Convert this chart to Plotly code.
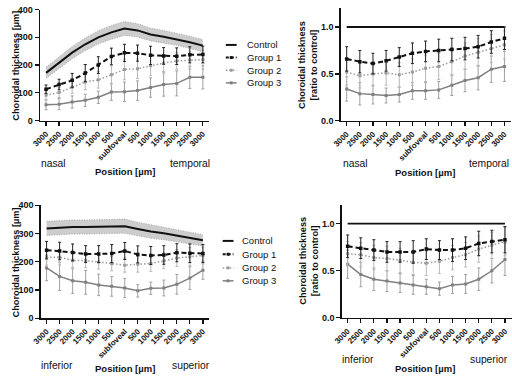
import plotly.graph_objects as go

W, H = 512, 379
positions = ["3000", "2500", "2000", "1500", "1000", "500", "subfoveal",
             "500", "1000", "1500", "2000", "2500", "3000"]
idx = list(range(len(positions)))

# ---- Top-left: nasal-temporal, absolute thickness (µm)
nt_control = [172, 210, 245, 275, 300, 318, 332, 325, 310, 302, 293, 282, 270]
nt_control_sd = [20, 21, 22, 23, 24, 25, 25, 24, 23, 23, 22, 22, 22]
nt_g1 = [113, 130, 145, 171, 200, 231, 244, 243, 235, 233, 232, 237, 238]
nt_g1_sd = [15, 19, 25, 31, 30, 30, 31, 29, 33, 30, 30, 29, 30]
nt_g2 = [91, 101, 120, 139, 147, 165, 184, 187, 198, 207, 215, 218, 220]
nt_g2_sd = [16, 18, 22, 28, 30, 32, 37, 35, 35, 30, 30, 32, 35]
nt_g3 = [57, 59, 67, 73, 84, 103, 104, 108, 119, 130, 134, 156, 156]
nt_g3_sd = [18, 20, 22, 22, 22, 30, 35, 35, 35, 42, 45, 40, 42]

# ---- Top-right: nasal-temporal, ratio to control
ntr_g1 = [0.66, 0.63, 0.61, 0.64, 0.68, 0.72, 0.74, 0.75, 0.76, 0.77, 0.79, 0.84, 0.88]
ntr_g1_sd = [0.13, 0.12, 0.11, 0.11, 0.10, 0.11, 0.11, 0.12, 0.12, 0.12, 0.12, 0.12, 0.12]
ntr_g2 = [0.52, 0.48, 0.50, 0.51, 0.49, 0.52, 0.56, 0.58, 0.63, 0.69, 0.73, 0.77, 0.81]
ntr_g2_sd = [0.14, 0.13, 0.13, 0.13, 0.13, 0.14, 0.14, 0.14, 0.15, 0.14, 0.15, 0.15, 0.15]
ntr_g3 = [0.34, 0.29, 0.28, 0.27, 0.28, 0.32, 0.32, 0.33, 0.38, 0.43, 0.46, 0.55, 0.58]
ntr_g3_sd = [0.13, 0.12, 0.10, 0.08, 0.08, 0.09, 0.09, 0.09, 0.11, 0.12, 0.13, 0.14, 0.16]

# ---- Bottom-left: inferior-superior, absolute thickness (µm)
is_control = [318, 321, 323, 323, 324, 326, 326, 316, 307, 301, 293, 285, 276]
is_control_sd = [25, 25, 25, 25, 25, 25, 25, 24, 24, 23, 22, 21, 20]
is_g1 = [241, 238, 233, 227, 227, 229, 238, 226, 222, 224, 232, 230, 229]
is_g1_sd = [31, 31, 30, 30, 30, 32, 30, 30, 32, 33, 32, 33, 32]
is_g2 = [216, 216, 205, 204, 199, 193, 188, 191, 194, 203, 213, 218, 222]
is_g2_sd = [28, 27, 30, 25, 25, 25, 25, 28, 28, 28, 30, 32, 30]
is_g3 = [178, 148, 133, 127, 118, 113, 107, 97, 106, 107, 120, 142, 170]
is_g3_sd = [45, 50, 45, 42, 38, 35, 34, 22, 22, 28, 35, 40, 32]

# ---- Bottom-right: inferior-superior, ratio to control
isr_g1 = [0.76, 0.74, 0.72, 0.70, 0.70, 0.70, 0.73, 0.72, 0.72, 0.74, 0.79, 0.81, 0.83]
isr_g1_sd = [0.12, 0.11, 0.11, 0.11, 0.11, 0.12, 0.11, 0.10, 0.12, 0.12, 0.13, 0.12, 0.14]
isr_g2 = [0.68, 0.67, 0.64, 0.63, 0.61, 0.59, 0.58, 0.60, 0.64, 0.67, 0.73, 0.77, 0.81]
isr_g2_sd = [0.13, 0.13, 0.13, 0.13, 0.13, 0.13, 0.13, 0.13, 0.13, 0.13, 0.14, 0.14, 0.15]
isr_g3 = [0.57, 0.46, 0.41, 0.39, 0.37, 0.35, 0.33, 0.31, 0.35, 0.36, 0.41, 0.50, 0.62]
isr_g3_sd = [0.15, 0.13, 0.12, 0.11, 0.10, 0.10, 0.08, 0.07, 0.09, 0.10, 0.12, 0.13, 0.17]
ratio_control = [1.0] * 13

group_names = ["Control", "Group 1", "Group 2", "Group 3"]

FONT = "Liberation Sans, Arial, sans-serif"
C_G1 = "#111111"
C_G2 = "#9c9c9c"
C_G3 = "#808080"
EB_G1 = "#222222"
EB_G2 = "#b8b8b8"
EB_G3 = "#a0a0a0"
DASH_G1 = "5px,3px"
DASH_G2 = "1.5px,2px"

fig = go.Figure()


def px_x(p):
    return p / W


def px_y(p):
    return 1 - p / H


panels = {
    1: dict(dx=[px_x(31.7), px_x(204)], dy=[px_y(118.7), px_y(4.7)], yr=[0, 400], ticks=[0, 100, 200, 300, 400], tt=["0", "100", "200", "300", "400"]),
    2: dict(dx=[px_x(337.7), px_x(511)], dy=[px_y(119), px_y(3.3)], yr=[0, 1.2], ticks=[0, 0.5, 1.0], tt=["0.0", "0.5", "1.0"]),
    3: dict(dx=[px_x(32.3), px_x(204)], dy=[px_y(321.7), px_y(205.7)], yr=[0, 400], ticks=[0, 100, 200, 300, 400], tt=["0", "100", "200", "300", "400"]),
    4: dict(dx=[px_x(338.7), px_x(511.5)], dy=[px_y(321.3), px_y(205.3)], yr=[0, 1.2], ticks=[0, 0.5, 1.0], tt=["0.0", "0.5", "1.0"]),
}


def add_band(i, mean, sd):
    xa, ya = ("x" if i == 1 else f"x{i}"), ("y" if i == 1 else f"y{i}")
    upper = [m + s for m, s in zip(mean, sd)]
    lower = [m - s for m, s in zip(mean, sd)]
    fig.add_trace(go.Scatter(x=idx, y=upper, mode="lines", xaxis=xa, yaxis=ya,
                             line=dict(color="#9a9a9a", width=0.8, dash="1px,1.5px"),
                             showlegend=False, hoverinfo="skip"))
    fig.add_trace(go.Scatter(x=idx, y=lower, mode="lines", xaxis=xa, yaxis=ya,
                             line=dict(color="#9a9a9a", width=0.8, dash="1px,1.5px"),
                             fill="tonexty", fillcolor="#cdcdcd",
                             showlegend=False, hoverinfo="skip"))
    fig.add_trace(go.Scatter(x=idx, y=mean, mode="lines", xaxis=xa, yaxis=ya, name="Control",
                             line=dict(color="#111111", width=2), showlegend=False))


def add_group(i, mean, sd, name, color, ebc, dash, width, msize):
    xa, ya = ("x" if i == 1 else f"x{i}"), ("y" if i == 1 else f"y{i}")
    fig.add_trace(go.Scatter(x=idx, y=mean, mode="lines+markers", xaxis=xa, yaxis=ya, name=name,
                             line=dict(color=color, width=width, dash=dash),
                             marker=dict(symbol="square", size=msize, color=color),
                             error_y=dict(type="data", array=sd, visible=True, color=ebc,
                                          thickness=1, width=1.5),
                             showlegend=False))


# Panel 1
add_band(1, nt_control, nt_control_sd)
add_group(1, nt_g3, nt_g3_sd, "Group 3", C_G3, EB_G3, "solid", 1.5, 3)
add_group(1, nt_g2, nt_g2_sd, "Group 2", C_G2, EB_G2, DASH_G2, 1.5, 3)
add_group(1, nt_g1, nt_g1_sd, "Group 1", C_G1, EB_G1, DASH_G1, 2, 3.5)

# Panel 2
fig.add_trace(go.Scatter(x=idx, y=ratio_control, mode="lines", xaxis="x2", yaxis="y2", name="Control",
                         line=dict(color="#111111", width=1.8), showlegend=False))
add_group(2, ntr_g3, ntr_g3_sd, "Group 3", C_G3, EB_G3, "solid", 1.5, 3)
add_group(2, ntr_g2, ntr_g2_sd, "Group 2", C_G2, EB_G2, DASH_G2, 1.5, 3)
add_group(2, ntr_g1, ntr_g1_sd, "Group 1", C_G1, EB_G1, DASH_G1, 2, 3.5)

# Panel 3
add_band(3, is_control, is_control_sd)
add_group(3, is_g3, is_g3_sd, "Group 3", C_G3, EB_G3, "solid", 1.5, 3)
add_group(3, is_g2, is_g2_sd, "Group 2", C_G2, EB_G2, DASH_G2, 1.5, 3)
add_group(3, is_g1, is_g1_sd, "Group 1", C_G1, EB_G1, DASH_G1, 2, 3.5)

# Panel 4
fig.add_trace(go.Scatter(x=idx, y=ratio_control, mode="lines", xaxis="x4", yaxis="y4", name="Control",
                         line=dict(color="#111111", width=1.8), showlegend=False))
add_group(4, isr_g3, isr_g3_sd, "Group 3", C_G3, EB_G3, "solid", 1.5, 3)
add_group(4, isr_g2, isr_g2_sd, "Group 2", C_G2, EB_G2, DASH_G2, 1.5, 3)
add_group(4, isr_g1, isr_g1_sd, "Group 1", C_G1, EB_G1, DASH_G1, 2, 3.5)

layout = dict(
    width=W, height=H, margin=dict(l=0, r=0, t=0, b=0),
    paper_bgcolor="white", plot_bgcolor="white", showlegend=False,
    font=dict(family=FONT, color="#111111"),
)
for i, p in panels.items():
    layout[f"xaxis{'' if i == 1 else i}"] = dict(
        domain=p["dx"], anchor=("y" if i == 1 else f"y{i}"),
        range=[-0.45, 12.5], tickmode="array", tickvals=idx, ticktext=positions,
        tickangle=-45, tickfont=dict(size=8, family=FONT, weight="bold", color="#111111"),
        showline=True, linecolor="#111111", linewidth=1.5, ticks="outside", ticklen=4,
        tickwidth=1.2, tickcolor="#111111", showgrid=False, zeroline=False, fixedrange=True)
    layout[f"yaxis{'' if i == 1 else i}"] = dict(
        domain=p["dy"], anchor=("x" if i == 1 else f"x{i}"),
        range=p["yr"], tickmode="array", tickvals=p["ticks"], ticktext=p["tt"],
        tickfont=dict(size=9, family=FONT, weight="bold", color="#111111"),
        showline=True, linecolor="#111111", linewidth=1.5, ticks="outside", ticklen=4,
        tickwidth=1.2, tickcolor="#111111", showgrid=False, zeroline=False, fixedrange=True)
fig.update_layout(**layout)

ann = []


def text(xp, yp, s, size=10, bold=False, angle=0, xanchor="center"):
    ann.append(dict(x=px_x(xp), y=px_y(yp), xref="paper", yref="paper", showarrow=False,
                    text=(f"<b>{s}</b>" if bold else s), textangle=angle, xanchor=xanchor,
                    yanchor="middle", font=dict(size=size, family=FONT, color="#111111")))


# Y axis titles
text(7.5, 62, "Choroidal thickness [µm]", 9.2, True, -90)
text(7.5, 264, "Choroidal thickness [µm]", 9.2, True, -90)
text(305, 62, "Choroidal thickness<br>[ratio to control]", 9.2, True, -90)
text(305, 263, "Choroidal thickness<br>[ratio to control]", 9.2, True, -90)
# X axis titles
text(117.7, 170.7, "Position [µm]", 9.5, True)
text(423.8, 171.7, "Position [µm]", 9.5, True)
text(118.3, 373, "Position [µm]", 9.5, True)
text(423.3, 373, "Position [µm]", 9.5, True)
# Direction labels
text(45, 162.7, "nasal", 10.3)
text(183.8, 162.7, "temporal", 10.3)
text(352.7, 162.7, "nasal", 10.3)
text(489, 162.7, "temporal", 10.3)
text(49, 370, "inferior", 10.3)
text(185.2, 370, "superior", 10.3)
text(355, 364, "inferior", 10.3)
text(489, 364, "superior", 10.3)

# Manual legends (top and bottom)
shapes = []
legend_styles = [
    ("#111111", "solid", 2, None),
    (C_G1, "3px,2px", 2, 3),
    (C_G2, "1.5px,2px", 1.5, 3),
    (C_G3, "solid", 1.5, 3),
]
for (lx0, lx1, tx, rows) in [(220.7, 231.7, 240.7, [41, 54, 67, 80]),
                              (217.5, 228.5, 235.5, [242.3, 256, 270, 283.3])]:
    for (color, dash, width, msz), name, ry in zip(legend_styles, group_names, rows):
        shapes.append(dict(type="line", xref="paper", yref="paper",
                           x0=px_x(lx0), x1=px_x(lx1), y0=px_y(ry), y1=px_y(ry),
                           line=dict(color=color, width=width, dash=dash)))
        if msz:
            cx = (lx0 + lx1) / 2
            shapes.append(dict(type="rect", xref="paper", yref="paper",
                               x0=px_x(cx - msz / 2), x1=px_x(cx + msz / 2),
                               y0=px_y(ry + msz / 2), y1=px_y(ry - msz / 2),
                               fillcolor=color, line=dict(width=0)))
        text(tx, ry, name, 9.5, False, 0, "left")

fig.update_layout(annotations=ann, shapes=shapes)
fig.write_html("out.html", config={"displayModeBar": False, "staticPlot": True},
               post_script="document.body.style.margin='0';document.body.style.overflow='hidden';")
